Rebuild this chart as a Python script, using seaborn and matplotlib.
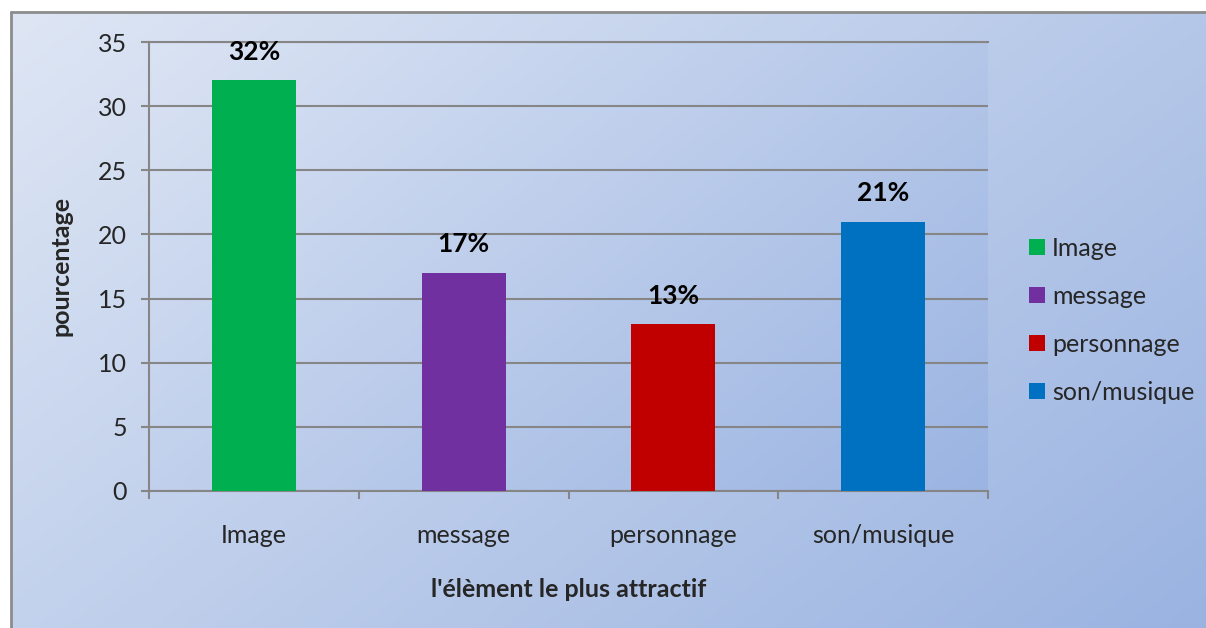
import numpy as np
import pandas as pd
import matplotlib
matplotlib.use("Agg")
import matplotlib.pyplot as plt
import seaborn as sns
from matplotlib.colors import LinearSegmentedColormap

categories = ["Image", "message", "personnage", "son/musique"]
values = [32, 17, 13, 21]
labels = ["32%", "17%", "13%", "21%"]
colors = ["#00B050", "#7030A0", "#C00000", "#0070C0"]
yticks = [0, 5, 10, 15, 20, 25, 30, 35]

sns.set_theme(style="white")
plt.rcParams["font.family"] = ["Lato", "DejaVu Sans"]

W, H = 1206, 628
fig = plt.figure(figsize=(W / 100, H / 100), dpi=100)
fig.patch.set_facecolor("white")

def grad_axes(rect, c0, c1, z):
    a = fig.add_axes(rect, zorder=z)
    n = 256
    xx, yy = np.meshgrid(np.linspace(0, 1, n), np.linspace(0, 1, n))
    t = (xx * 0.6 + yy * 0.4)
    cmap = LinearSegmentedColormap.from_list("g", [c0, c1])
    a.imshow(t, cmap=cmap, aspect="auto", extent=[0, 1, 0, 1], origin="upper", vmin=0, vmax=1)
    a.set_xlim(0, 1); a.set_ylim(0, 1)
    a.axis("off")
    return a

# chart area background
bg = grad_axes([11 / W, 0, 1 - 11 / W, 1 - 12 / H], "#DEE6F4", "#9AB3E1", -3)
fig.add_artist(plt.Line2D([11 / W, 11 / W], [0, 1 - 12 / H], color="#8C8C8C", lw=2.0, transform=fig.transFigure))
fig.add_artist(plt.Line2D([11 / W, 1], [1 - 12 / H, 1 - 12 / H], color="#8C8C8C", lw=2.0, transform=fig.transFigure))

x0, x1, ytop, ybot = 149, 988, 42, 491
rect = [x0 / W, (H - ybot) / H, (x1 - x0) / W, (ybot - ytop) / H]
pa = grad_axes(rect, "#DAE3F3", "#9BB4E2", -2)

ax = fig.add_axes(rect, zorder=1)
ax.patch.set_alpha(0)

df = pd.DataFrame({"cat": categories, "val": values})
sns.barplot(data=df, x="cat", y="val", hue="cat", palette=colors, order=categories,
            hue_order=categories, width=0.4, legend=True, ax=ax, saturation=1,
            linewidth=0, edgecolor="none", zorder=3)

ax.set_xlim(-0.5, 3.5)
ax.set_ylim(0, 35)
ax.set_yticks(yticks)
ax.set_yticklabels([str(v) for v in yticks], fontsize=18)
ax.set_xticks(range(len(categories)))
ax.set_xticklabels(categories, fontsize=18)
ax.set_xticks(np.arange(-0.5, 4, 1), minor=True)

gray = "#868686"
ax.yaxis.grid(True, color=gray, lw=1.5, zorder=0)
ax.set_axisbelow(True)
for s in ["left", "bottom", "top"]:
    ax.spines[s].set_visible(True)
    ax.spines[s].set_color(gray)
    ax.spines[s].set_linewidth(1.5)
ax.spines["right"].set_visible(False)

ax.tick_params(axis="y", which="major", length=6, width=1.5, color=gray, pad=10, left=True)
ax.tick_params(axis="x", which="major", length=0, pad=24)
ax.tick_params(axis="x", which="minor", length=6, width=1.5, color=gray, bottom=True)

for i, (v, lab) in enumerate(zip(values, labels)):
    ax.annotate(lab, (i, v), xytext=(0, 12), textcoords="offset points",
                ha="center", va="bottom", fontsize=19, fontweight="bold", color="black")

ax.set_xlabel("l'élèment le plus attractif", fontsize=18, fontweight="bold", labelpad=22)
ax.set_ylabel("pourcentage", fontsize=18, fontweight="bold", labelpad=18)

handles, leg_labels = ax.get_legend_handles_labels()
if ax.legend_:
    ax.legend_.remove()
fig.legend(handles, leg_labels, loc="center left", bbox_to_anchor=(1029 / W, (H - 320) / H),
           frameon=False, fontsize=18, handlelength=0.62, handleheight=0.62,
           handletextpad=0.3, labelspacing=1.0, borderpad=0, borderaxespad=0)

fig.savefig("out.png", dpi=100)
